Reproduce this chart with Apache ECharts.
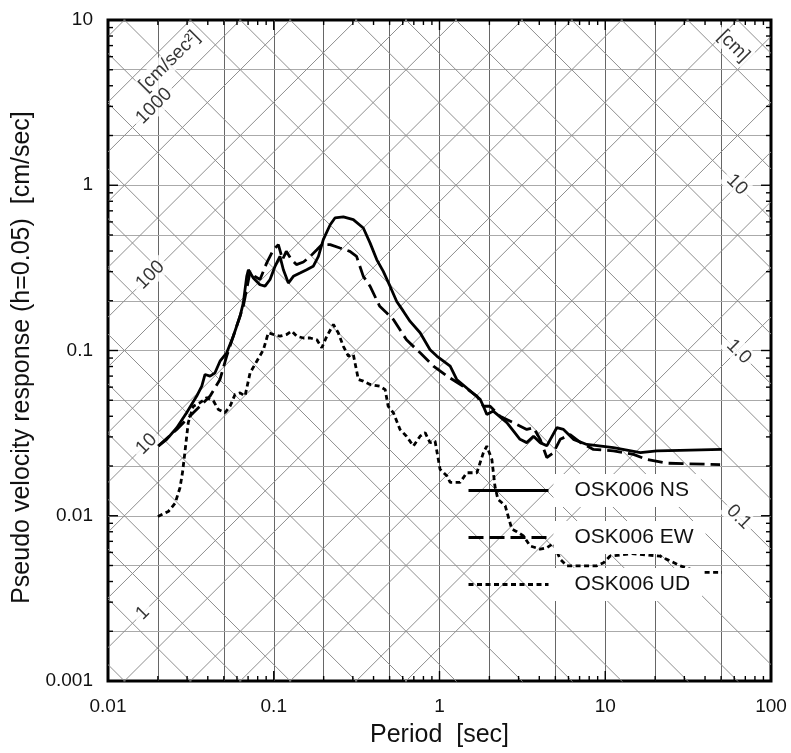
<!DOCTYPE html>
<html>
<head>
<meta charset="utf-8">
<script src="https://cdn.jsdelivr.net/npm/echarts@6/dist/echarts.min.js"></script>
<style>
html,body{margin:0;padding:0;background:#fff;}
#chart{width:791px;height:753px;}
</style>
</head>
<body>
<div id="chart"></div>
<script>
// ---------------- data ----------------
const xTickLabels = ['0.01', '0.1', '1', '10', '100'];
const yTickLabels = ['0.001', '0.01', '0.1', '1', '10'];

// [period (sec), pseudo velocity (cm/sec)]
const nsData = [
  [0.0201,0.0264],[0.0226,0.029],[0.026,0.0341],[0.0298,0.042],[0.0343,0.053],[0.0368,0.0608],
  [0.0385,0.0716],[0.0413,0.070],[0.0442,0.0733],[0.0474,0.0861],[0.052,0.0968],[0.057,0.122],
  [0.0626,0.161],[0.0655,0.194],[0.0687,0.281],[0.0703,0.308],[0.0753,0.275],[0.0826,0.25],
  [0.0886,0.245],[0.095,0.269],[0.1018,0.323],[0.109,0.371],[0.1143,0.308],[0.1225,0.256],
  [0.1313,0.281],[0.144,0.294],[0.158,0.308],[0.173,0.323],[0.186,0.371],[0.199,0.469],
  [0.219,0.577],[0.234,0.634],[0.263,0.643],[0.302,0.619],[0.347,0.551],[0.381,0.448],
  [0.418,0.355],[0.458,0.301],[0.503,0.245],[0.552,0.198],[0.605,0.173],[0.665,0.150],
  [0.764,0.128],[0.877,0.101],[0.963,0.0925],[1.16,0.0804],[1.27,0.0668],[1.76,0.0506],
  [1.84,0.046],[1.93,0.041],[2.11,0.043],[2.55,0.0366],[3.06,0.029],[3.36,0.0277],
  [3.69,0.0303],[4.05,0.0277],[4.44,0.0265],[5.1,0.0341],[5.6,0.0333],[6.43,0.029],
  [7.74,0.027],[11.2,0.0258],[16.3,0.0241],[20.5,0.0247],[28.3,0.0249],[50.6,0.0252]
];
const ewData = [
  [0.0201,0.0264],[0.026,0.0333],[0.0327,0.042],[0.0413,0.053],[0.0474,0.0668],[0.052,0.0925],
  [0.057,0.122],[0.0655,0.185],[0.072,0.301],[0.077,0.281],[0.0826,0.269],[0.0907,0.339],
  [0.0995,0.407],[0.1066,0.437],[0.113,0.355],[0.119,0.398],[0.128,0.355],[0.137,0.331],
  [0.151,0.343],[0.166,0.371],[0.182,0.407],[0.195,0.437],[0.219,0.437],[0.251,0.417],
  [0.288,0.398],[0.316,0.371],[0.347,0.281],[0.381,0.245],[0.436,0.185],[0.479,0.169],
  [0.527,0.154],[0.632,0.116],[0.764,0.0968],[0.919,0.0804],[1.11,0.070],[1.39,0.0608],
  [1.68,0.053],[1.84,0.046],[2.02,0.046],[2.32,0.040],[2.79,0.0366],[3.36,0.0333],
  [3.69,0.0341],[4.05,0.029],[4.44,0.0225],[4.87,0.0241],[5.35,0.029],[6.14,0.031],
  [7.1,0.0277],[8.49,0.0252],[11.2,0.0247],[14.8,0.0235],[17.8,0.0219],[23.5,0.0208],
  [49.3,0.0204]
];
const udData = [
  [0.02,0.0099],[0.0231,0.0106],[0.0254,0.0119],[0.0272,0.0148],[0.0282,0.0185],[0.029,0.0235],
  [0.0305,0.0366],[0.0327,0.046],[0.0359,0.0483],[0.0394,0.0518],[0.0432,0.0496],[0.0463,0.044],
  [0.0508,0.042],[0.0545,0.046],[0.0584,0.0542],[0.0626,0.0554],[0.0671,0.053],[0.072,0.0733],
  [0.079,0.0861],[0.0866,0.101],[0.0927,0.128],[0.0995,0.125],[0.109,0.122],[0.1196,0.125],
  [0.1284,0.131],[0.1376,0.122],[0.151,0.119],[0.166,0.119],[0.182,0.116],[0.195,0.104],
  [0.209,0.122],[0.229,0.1436],[0.245,0.128],[0.263,0.106],[0.282,0.0925],[0.302,0.0946],
  [0.324,0.0668],[0.347,0.0653],[0.381,0.0623],[0.436,0.0608],[0.47,0.058],[0.49,0.046],
  [0.527,0.042],[0.578,0.0333],[0.632,0.0303],[0.696,0.0264],[0.764,0.0303],[0.819,0.0318],
  [0.877,0.0277],[0.94,0.0283],[1.008,0.0191],[1.11,0.0174],[1.16,0.0159],[1.33,0.0159],
  [1.46,0.0182],[1.68,0.0182],[1.84,0.0241],[1.93,0.0264],[2.07,0.0219],[2.16,0.0151],
  [2.25,0.0126],[2.49,0.0115],[2.73,0.0083],[2.93,0.0080],[3.21,0.00755],[3.52,0.00657],
  [4.05,0.00628],[4.44,0.0064],[4.87,0.0068],[5.35,0.00546],[5.87,0.00498],[7.1,0.00498],
  [8.9,0.00498],[9.77,0.0052],[10.7,0.0057],[14.5,0.0059],[21.4,0.0057],[24.6,0.00533],
  [28.3,0.00498],[37.4,0.00454],[50.6,0.00454]
];
const seriesNames = ['OSK006 NS', 'OSK006 EW', 'OSK006 UD'];

// grid values
const gridPeriods = [0.02,0.05,0.1,0.2,0.5,1,2,5,10,20,50];
const gridVelocities = [0.002,0.005,0.01,0.02,0.05,0.1,0.2,0.5,1,2,5];
const accelLines = [0.01,0.02,0.05,0.1,0.2,0.5,1,2,5,10,20,50,100,200,500,1000,2000,5000]; // cm/sec^2
const dispLines = [1e-6,2e-6,5e-6,1e-5,2e-5,5e-5,1e-4,2e-4,5e-4,0.001,0.002,0.005,0.01,0.02,0.05,0.1,0.2,0.5,1,2,5,10,20,50,100]; // cm
const accelLabels = ['1', '10', '100', '1000'];
const dispLabels = ['0.1', '1.0', '10'];
const accelUnit = '[cm/sec²]';
const dispUnit = '[cm]';

// ---------------- layout / style ----------------
const X_MIN = 0.01, X_MAX = 100, Y_MIN = 0.001, Y_MAX = 10;
const TWO_PI = 2 * Math.PI;
const FONT = 'Liberation Sans, Arial, Helvetica, sans-serif';
const ACC_LABEL_T = 0.0148;
const DISP_LABEL_T = 54;

const chart = echarts.init(document.getElementById('chart'), null, {renderer: 'canvas'});

const vGrid = gridPeriods.map(t => ({coords: [[t, Y_MIN], [t, Y_MAX]]}));
const hGrid = gridVelocities.map(v => ({coords: [[X_MIN, v], [X_MAX, v]]}));
const accGrid = accelLines.map(a => ({coords: [[X_MIN, a * X_MIN / TWO_PI], [X_MAX, a * X_MAX / TWO_PI]]}));
const dispGrid = dispLines.map(d => ({coords: [[X_MIN, TWO_PI * d / X_MIN], [X_MAX, TWO_PI * d / X_MAX]]}));

function tickValues(minExp, maxExp) {
  const out = [];
  for (let e = minExp; e < maxExp; e++) {
    for (let k = 1; k <= 9; k++) out.push([k * Math.pow(10, e), k === 1 ? 1 : 0]);
  }
  out.push([Math.pow(10, maxExp), 1]);
  return out;
}
const xTicks = tickValues(-2, 2).map(t => [t[0], Y_MIN, t[1]]);
const yTicks = tickValues(-3, 1).map(t => [X_MIN, t[0], t[1]]);

const tickStyle = {stroke: '#000', lineWidth: 1.4};

const baseLabel = {
  show: true, position: 'inside', align: 'left', verticalAlign: 'middle',
  fontSize: 19, fontFamily: FONT, color: '#000', backgroundColor: '#fff', padding: [1, 4],
  formatter: p => p.name
};

const option = {
  animation: false,
  backgroundColor: '#fff',
  grid: {left: 108, top: 20, width: 663, height: 662, show: true, borderColor: '#000', borderWidth: 3, backgroundColor: 'transparent'},
  xAxis: {
    type: 'log', logBase: 10, min: X_MIN, max: X_MAX,
    axisLine: {show: false}, axisTick: {show: false}, splitLine: {show: false}, minorTick: {show: false},
    axisLabel: {fontSize: 19, fontFamily: FONT, color: '#111', margin: 16,
      formatter: v => { const i = Math.round(Math.log10(v)) + 2; return xTickLabels[i] || ''; }},
    name: 'Period  [sec]', nameLocation: 'middle', nameGap: 42,
    nameTextStyle: {fontSize: 25, fontFamily: FONT, color: '#111'}
  },
  yAxis: {
    type: 'log', logBase: 10, min: Y_MIN, max: Y_MAX,
    axisLine: {show: false}, axisTick: {show: false}, splitLine: {show: false}, minorTick: {show: false},
    axisLabel: {fontSize: 19, fontFamily: FONT, color: '#111', margin: 15,
      formatter: v => { const i = Math.round(Math.log10(v)) + 3; return yTickLabels[i] || ''; }},
    name: 'Pseudo velocity response (h=0.05)  [cm/sec]', nameLocation: 'middle', nameGap: 70,
    nameTextStyle: {fontSize: 25, fontFamily: FONT, color: '#111', padding: [0, 14, 0, 0]}
  },
  legend: {
    data: seriesNames, orient: 'vertical', left: 467, top: 474, padding: 0,
    itemWidth: 80, itemHeight: 14, itemGap: 14,
    itemStyle: {color: 'rgba(0,0,0,0)', opacity: 0, borderWidth: 0},
    lineStyle: {width: 3, color: '#000'},
    textStyle: {fontSize: 21, fontFamily: FONT, color: '#111', backgroundColor: '#fff', lineHeight: 23, padding: [5, 12, 5, 21]}
  },
  series: [
    {type: 'lines', coordinateSystem: 'cartesian2d', z: 1, silent: true, clip: true, data: vGrid,
      lineStyle: {color: '#666', width: 1, opacity: 1}},
    {type: 'lines', coordinateSystem: 'cartesian2d', z: 1, silent: true, clip: true, data: hGrid,
      lineStyle: {color: '#aaa', width: 1, opacity: 1}},
    {type: 'lines', coordinateSystem: 'cartesian2d', z: 1, silent: true, clip: true, data: accGrid,
      lineStyle: {color: '#8e8e8e', width: 1, opacity: 1}},
    {type: 'lines', coordinateSystem: 'cartesian2d', z: 1, silent: true, clip: true, data: dispGrid,
      lineStyle: {color: '#8e8e8e', width: 1, opacity: 1}},
    {type: 'scatter', z: 2, silent: true, symbolSize: 1, itemStyle: {color: 'rgba(0,0,0,0)'},
      data: accelLabels.map(s => ({name: s, value: [ACC_LABEL_T, Number(s) * ACC_LABEL_T / TWO_PI]}))
        .concat([{name: accelUnit, value: [0.0155, 1500 * 0.0155 / TWO_PI]}]),
      label: Object.assign({}, baseLabel, {rotate: 45})},
    {type: 'scatter', z: 2, silent: true, symbolSize: 1, itemStyle: {color: 'rgba(0,0,0,0)'},
      data: dispLabels.map(s => ({name: s, value: [DISP_LABEL_T, TWO_PI * Number(s) / DISP_LABEL_T]}))
        .concat([{name: dispUnit, value: [48, TWO_PI * 66 / 48]}]),
      label: Object.assign({}, baseLabel, {rotate: -45})},
    {type: 'custom', coordinateSystem: 'cartesian2d', z: 3, silent: true, data: xTicks,
      encode: {x: 0, y: 1},
      renderItem: (params, api) => {
        const v = api.value(0), len = api.value(2) ? 10 : 5;
        const b = api.coord([v, Y_MIN]), t = api.coord([v, Y_MAX]);
        return {type: 'group', children: [
          {type: 'line', shape: {x1: b[0], y1: b[1], x2: b[0], y2: b[1] - len}, style: tickStyle},
          {type: 'line', shape: {x1: t[0], y1: t[1], x2: t[0], y2: t[1] + len}, style: tickStyle}
        ]};
      }},
    {type: 'custom', coordinateSystem: 'cartesian2d', z: 3, silent: true, data: yTicks,
      encode: {x: 0, y: 1},
      renderItem: (params, api) => {
        const v = api.value(1), len = api.value(2) ? 10 : 5;
        const l = api.coord([X_MIN, v]), r = api.coord([X_MAX, v]);
        return {type: 'group', children: [
          {type: 'line', shape: {x1: l[0], y1: l[1], x2: l[0] + len, y2: l[1]}, style: tickStyle},
          {type: 'line', shape: {x1: r[0], y1: r[1], x2: r[0] - len, y2: r[1]}, style: tickStyle}
        ]};
      }},
    {name: seriesNames[0], type: 'line', z: 3, data: nsData, symbol: 'none', showSymbol: false,
      lineStyle: {color: '#000', width: 2.8, type: 'solid'}, itemStyle: {color: '#000'}},
    {name: seriesNames[1], type: 'line', z: 3, data: ewData, symbol: 'none', showSymbol: false,
      lineStyle: {color: '#000', width: 2.8, type: [15, 6]}, itemStyle: {color: '#000'}},
    {name: seriesNames[2], type: 'line', z: 3, data: udData, symbol: 'none', showSymbol: false,
      lineStyle: {color: '#000', width: 2.8, type: [5, 3.5]}, itemStyle: {color: '#000'}}
  ]
};
chart.setOption(option);
</script>
</body>
</html>
